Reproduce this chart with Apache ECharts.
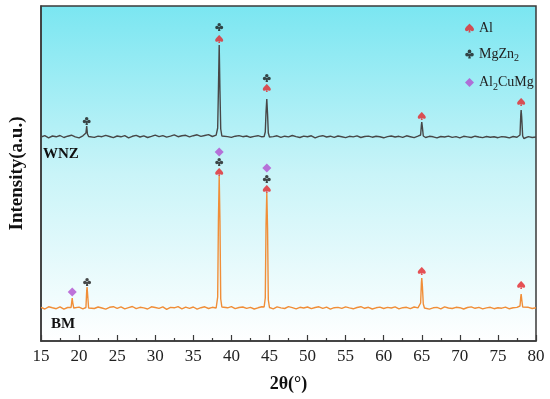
<!DOCTYPE html>
<html>
<head>
<meta charset="utf-8">
<script src="https://cdn.jsdelivr.net/npm/echarts@6/dist/echarts.min.js"></script>
<style>html,body{margin:0;padding:0;background:#fff}#c{width:550px;height:399px}</style>
</head>
<body>
<div id="c"></div>
<script>
// 2θ sampling of the baseline (degrees)
const gridStart = 15, gridStep = 0.5, gridCount = 131;
// baseline levels (arbitrary intensity units)
const wnzBaseLevel = 204;
const bmBaseLevel = 33;
// baseline noise (one value per 0.5°)
const wnzNoise = [
  0, 1.3, -0.8, 1.0, 0.2, 1.5, -0.5, 0.8, 1.8, 0.1, -0.9, 1.2, 0.4, 1.4, -0.4, 0.9, 0.3, 1.7, 0.5, -0.7,
  1.0, 0.2, 1.3, -0.8, 0.7, 1.6, 0.0, 1.2, -0.5, 0.6, 1.9, 0.4, 1.4, -0.2, 0.9, 2.1, 0.3, 1.2, 1.7, 0.2,
  1.3, 2.2, 0.6, 1.5, 2.4, 0.5, 1.8, 0.8, 1.6, 0.4, -0.4, 0.8, 1.4, 0.3, 1.0, -0.3, 0.6, 1.3, 0.2, 0.9,
  -0.6, 0.4, 1.2, -0.4, 0.8, 0.1, 1.5, 0.4, -0.5, 0.9, 0.2, 1.2, -0.8, 0.6, 1.3, 0.0, 0.8, -0.4, 1.0, 0.3,
  -0.6, 0.7, 0.1, 1.2, -0.5, 0.5, 0.9, -0.2, 0.8, 0.2, -0.8, 0.4, 1.0, 0.0, 0.7, -0.4, 1.2, 0.3, -0.6, 0.8,
  0.1, -0.5, 0.7, 0.2, -0.9, 0.5, 0.0, 0.9, -0.4, 0.4, -0.8, 0.7, 0.1, -0.5, 0.8, 0.0, -0.6, 0.5, -0.2, 0.3,
  -0.7, 0.4, 0.0, -0.9, 0.5, -0.3, 0.2, -1.0, 0.4, -0.5, 0.0
];
const bmNoise = [
  0.6, -1.0, 1.2, 0.2, -0.7, 1.1, -1.2, 0.5, 1.4, -0.4, 0.9, -0.8, 0.3, 1.2, -0.5, 1.0, 0.0, -1.1, 0.7, 1.3,
  -0.3, 1.1, -0.9, 0.3, 1.5, -0.7, 0.7, 0.1, -1.0, 1.2, 0.5, -0.4, 1.1, -1.3, 0.6, 0.2, 1.4, -0.8, 0.9, -0.3,
  1.0, -1.1, 0.3, 1.2, -0.5, 0.7, 0.0, -0.9, 1.1, 0.2, 1.3, -0.7, 0.5, 1.0, -0.4, 0.7, -1.0, 0.2, 1.2, -0.2,
  0.6, -0.8, 1.1, 0.1, -0.5, 1.4, 0.3, -0.9, 0.7, 0.0, 1.0, -0.7, 0.5, 1.2, -0.3, 0.9, -1.1, 0.3, 0.6, -0.4,
  1.1, 0.1, -0.8, 0.5, 1.3, -0.3, 0.7, -1.0, 0.2, 0.9, -0.5, 0.6, 0.0, 1.1, -0.9, 0.3, 0.7, -0.7, 1.0, 0.1,
  -0.4, 0.9, -1.1, 0.2, 0.6, -0.8, 1.2, 0.0, -0.5, 0.7, 0.3, -1.0, 0.5, 1.1, -0.3, 0.6, -0.9, 0.1, 0.7, -0.7,
  0.3, -0.2, 0.9, -0.8, 0.2, 0.6, -0.4, 0.0, 0.7, -0.5, 0.2
];
// diffraction peaks [2θ, intensity]
const wnzPeaks = [
  [[20.75,205],[20.9,208],[21.0,215],[21.1,207],[21.25,204.5]],
  [[38.05,205],[38.2,213],[38.3,252],[38.4,296],[38.5,250],[38.6,212],[38.75,205]],
  [[44.3,204.5],[44.45,209],[44.55,229],[44.65,242],[44.75,227],[44.85,208],[45.0,204]],
  [[64.7,203],[64.85,206],[64.95,216],[65.0,219],[65.08,214],[65.2,205],[65.35,203]],
  [[77.75,202.5],[77.9,206],[78.0,226],[78.05,231],[78.12,224],[78.25,205],[78.4,202.5]]
];
const bmPeaks = [
  [[18.95,33.5],[19.05,40],[19.1,43],[19.15,39],[19.3,33]],
  [[20.9,33.5],[21.0,50],[21.05,54],[21.1,49],[21.25,33]],
  [[38.05,34],[38.2,44],[38.3,122],[38.4,165],[38.5,120],[38.6,42],[38.75,34]],
  [[44.3,34],[44.45,43],[44.55,116],[44.65,148],[44.75,113],[44.85,41],[45.0,33.5]],
  [[64.7,33],[64.85,38],[64.95,58],[65.0,63],[65.08,55],[65.2,37],[65.35,33]],
  [[77.75,32.5],[77.9,35],[78.0,44],[78.05,47],[78.12,42],[78.25,34],[78.4,32.5]]
];
// phase markers [2θ, label height]
const alMarks = [[38.4,302],[44.65,253],[65.0,225],[78.05,239],[38.4,169],[44.65,152],[65.0,70],[78.05,56]];
const mgzn2Marks = [[21.0,220],[38.4,314],[44.65,263],[21.05,59],[38.4,179],[44.65,162]];
const al2cumgMarks = [[19.1,49],[38.4,189],[44.65,173]];
const xTicks = [15,20,25,30,35,40,45,50,55,60,65,70,75,80];

function buildPattern(level, noise, peaks) {
  const pts = [];
  for (let i = 0; i < noise.length; i++) {
    const x = gridStart + i * gridStep;
    const inside = peaks.some(p => x >= p[0][0] && x <= p[p.length-1][0]);
    if (!inside) pts.push([x, level + noise[i]]);
  }
  peaks.forEach(p => p.forEach(q => pts.push(q)));
  pts.sort((a,b) => a[0]-b[0]);
  return pts;
}

const spade = 'path://M50,0 C45,10 0,40 0,66 C0,86 26,92 44,76 L38,100 L62,100 L56,76 C74,92 100,86 100,66 C100,40 55,10 50,0 Z';
const club = 'path://M30,24 A20,20 0 1,1 70,24 A20,20 0 1,1 30,24 Z M4,58 A20,20 0 1,1 44,58 A20,20 0 1,1 4,58 Z M56,58 A20,20 0 1,1 96,58 A20,20 0 1,1 56,58 Z M44,50 L56,50 L64,100 L36,100 Z';
const serif = "'Liberation Serif','Times New Roman',serif";

const chart = echarts.init(document.getElementById('c'));
chart.setOption({
  animation: false,
  backgroundColor: '#fff',
  grid: {
    left: 38, right: 14, top: 6, bottom: 58,
    show: true, borderColor: '#3a3a3a', borderWidth: 1.5,
    backgroundColor: {type:'linear', x:0, y:0, x2:0, y2:1,
      colorStops:[{offset:0,color:'#7ae6f1'},{offset:0.5,color:'#c9f4f8'},{offset:1,color:'#ffffff'}]}
  },
  legend: {
    orient: 'vertical', left: 460, top: 16, itemWidth: 9, itemHeight: 9, itemGap: 12,
    textStyle: {fontFamily: serif, fontSize: 14, color: '#222',
      rich: {sub: {fontFamily: serif, fontSize: 10, color:'#222', padding:[9,0,0,0]}}},
    formatter: n => n === 'MgZn2' ? 'MgZn{sub|2}' : (n === 'Al2CuMg' ? 'Al{sub|2}CuMg' : n),
    data: [
      {name:'Al', icon: spade},
      {name:'MgZn2', icon: club},
      {name:'Al2CuMg', icon: 'diamond'}
    ]
  },
  xAxis: {
    type: 'value', min: 15, max: 80, interval: 5,
    name: '2θ(°)', nameLocation: 'middle', nameGap: 34,
    nameTextStyle: {fontFamily: serif, fontSize: 18, fontWeight: 'bold', color: '#111'},
    axisLine: {show: true, lineStyle: {color: '#3a3a3a', width: 1.5}},
    axisTick: {show: true, inside: true, length: 6, lineStyle: {color: '#3a3a3a', width: 1.2}},
    minorTick: {show: true, splitNumber: 2, length: 3, lineStyle: {color: '#3a3a3a', width: 1.2}},
    axisLabel: {fontFamily: serif, fontSize: 17, color: '#222', margin: 7,
      formatter: v => xTicks.includes(v) ? String(v) : ''},
    splitLine: {show: false}
  },
  yAxis: {
    type: 'value', min: 0, max: 335,
    name: 'Intensity(a.u.)', nameLocation: 'middle', nameGap: 14,
    nameTextStyle: {fontFamily: serif, fontSize: 19, fontWeight: 'bold', color: '#111'},
    axisLine: {show: true, lineStyle: {color: '#3a3a3a', width: 1.5}},
    axisTick: {show: false}, axisLabel: {show: false}, splitLine: {show: false}
  },
  graphic: [
    {type:'text', left: 43, top: 147, style:{text:'WNZ', font:"bold 15px 'Liberation Serif','Times New Roman',serif", fill:'#111'}},
    {type:'text', left: 51, top: 317, style:{text:'BM', font:"bold 15px 'Liberation Serif','Times New Roman',serif", fill:'#111'}}
  ],
  series: [
    {type:'line', name:'WNZ', data: buildPattern(wnzBaseLevel, wnzNoise, wnzPeaks), showSymbol:false,
      lineStyle:{color:'#474747', width:1.4}, z: 2},
    {type:'line', name:'BM', data: buildPattern(bmBaseLevel, bmNoise, bmPeaks), showSymbol:false,
      lineStyle:{color:'#f08e38', width:1.4}, z: 2},
    {type:'scatter', name:'Al', data: alMarks, symbol: spade, symbolSize: [8,8], itemStyle:{color:'#e3262b'}, z: 3},
    {type:'scatter', name:'MgZn2', data: mgzn2Marks, symbol: club, symbolSize: [8,8], itemStyle:{color:'#1a1a1a'}, z: 3},
    {type:'scatter', name:'Al2CuMg', data: al2cumgMarks, symbol: 'diamond', symbolSize: [9,9], itemStyle:{color:'#b14fcf'}, z: 3}
  ]
});
</script>
</body>
</html>
